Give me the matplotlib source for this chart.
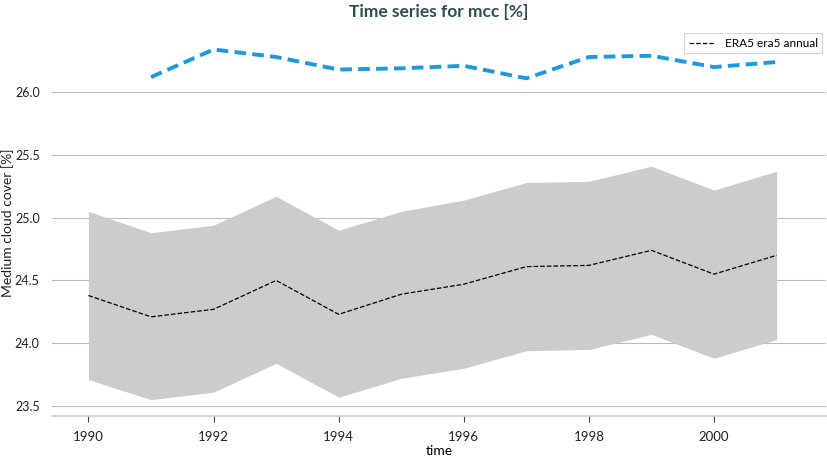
import matplotlib.pyplot as plt

# Datos
years = [1990, 1991, 1992, 1993, 1994, 1995, 1996, 1997, 1998, 1999, 2000, 2001]
mean_vals = [24.38, 24.21, 24.27, 24.50, 24.23, 24.39, 24.47, 24.61, 24.62, 24.74, 24.55, 24.70]
upper_vals = [25.05, 24.88, 24.94, 25.17, 24.90, 25.05, 25.14, 25.28, 25.29, 25.41, 25.22, 25.37]
lower_vals = [23.71, 23.55, 23.61, 23.84, 23.57, 23.72, 23.80, 23.94, 23.95, 24.07, 23.88, 24.03]
blue_years = [1991, 1992, 1993, 1994, 1995, 1996, 1997, 1998, 1999, 2000, 2001]
blue_vals = [26.12, 26.34, 26.28, 26.18, 26.19, 26.21, 26.11, 26.28, 26.29, 26.20, 26.24]

plt.rcParams['font.family'] = ['Lato', 'DejaVu Sans']

fig = plt.figure(figsize=(8.28, 4.57), dpi=100)
ax = fig.add_axes([0.063, 0.0897, 0.9346, 0.846])

ax.fill_between(years, lower_vals, upper_vals, color='#cccccc', linewidth=0, zorder=1)
ax.plot(years, mean_vals, color='black', linestyle='--', linewidth=0.9, label='ERA5 era5 annual', zorder=3)
ax.plot(blue_years, blue_vals, color='#1b9ae0', linestyle='--', linewidth=2.8, dashes=(3, 1.6), zorder=3)

ax.set_xlim(1989.42, 2001.79)
ax.set_ylim(23.42, 26.5)
ax.set_yticks([23.5, 24.0, 24.5, 25.0, 25.5, 26.0])
ax.set_xticks([1990, 1992, 1994, 1996, 1998, 2000])
ax.grid(axis='y', color='#bbbbbb', linewidth=0.8, zorder=0)
ax.set_axisbelow(True)

for s in ['top', 'right', 'left']:
    ax.spines[s].set_visible(False)
ax.spines['bottom'].set_color('#cccccc')
ax.spines['bottom'].set_linewidth(1.2)
ax.tick_params(axis='y', length=0, pad=9, labelsize=9, colors='#222222')
ax.tick_params(axis='x', length=4, width=0.8, pad=7, color='#444444', labelsize=9.5, labelcolor='#222222')

ax.set_xlabel('time', fontsize=10, labelpad=1)
# etiqueta del eje y colocada a mano para que no se corte
fig.text(8 / 828, 0.0897 + 0.846 / 2, 'Medium cloud cover [%]', rotation=90,
         ha='center', va='center', fontsize=10, color='#222222')
ax.set_title('Time series for mcc [%]', fontsize=12.5, fontweight='bold', color='#2f4f4f', pad=9)

leg = ax.legend(loc='upper right', fontsize=8.5, frameon=True, fancybox=False,
                edgecolor='#cccccc', borderaxespad=0.3, handlelength=2.2)
leg.get_frame().set_linewidth(0.8)

plt.savefig('out.png', dpi=100)
